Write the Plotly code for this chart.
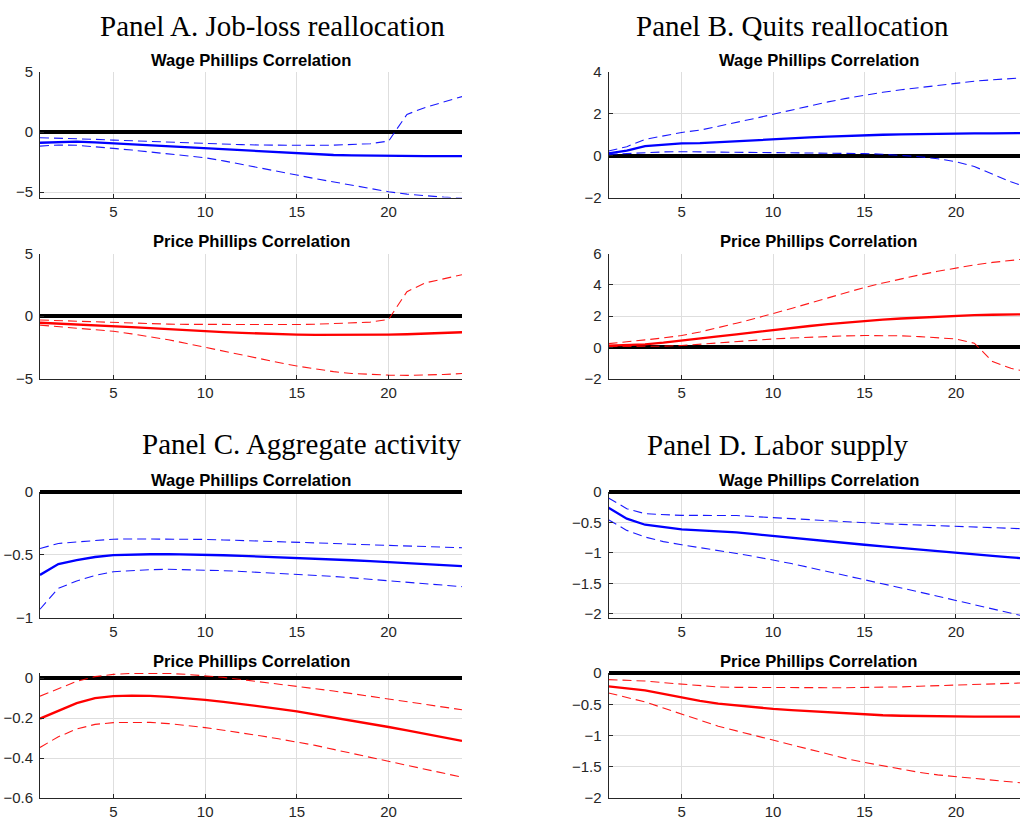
import plotly.graph_objects as go

# Forecast horizon (quarters)
horizon = list(range(1, 25))

# Panel A. Job-loss reallocation
a_wage_mid = [-0.89, -0.82, -0.80, -0.86, -0.94, -1.02, -1.11, -1.19, -1.28, -1.36, -1.45, -1.53,
              -1.61, -1.70, -1.78, -1.85, -1.91, -1.95, -1.98, -2.00, -2.01, -2.01, -2.01, -2.01]
a_wage_hi = [-0.47, -0.50, -0.55, -0.61, -0.67, -0.73, -0.80, -0.86, -0.92, -0.97, -1.01, -1.05,
             -1.08, -1.10, -1.11, -1.11, -1.09, -1.05, -0.97, -0.75, 1.47, 2.05, 2.50, 2.95]
a_wage_lo = [-1.17, -1.08, -1.10, -1.20, -1.36, -1.50, -1.66, -1.83, -1.98, -2.14, -2.40, -2.68,
             -2.97, -3.27, -3.58, -3.88, -4.16, -4.43, -4.70, -4.97, -5.17, -5.31, -5.42, -5.50]
a_price_mid = [-0.54, -0.60, -0.67, -0.74, -0.81, -0.89, -0.97, -1.06, -1.14, -1.22, -1.29, -1.35,
               -1.41, -1.46, -1.49, -1.51, -1.52, -1.52, -1.51, -1.49, -1.46, -1.41, -1.36, -1.30]
a_price_hi = [-0.32, -0.37, -0.43, -0.49, -0.54, -0.58, -0.62, -0.65, -0.67, -0.68, -0.69, -0.69,
              -0.69, -0.69, -0.68, -0.66, -0.62, -0.57, -0.49, -0.27, 1.95, 2.65, 3.00, 3.30]
a_price_lo = [-0.73, -0.85, -0.98, -1.10, -1.22, -1.43, -1.65, -1.90, -2.20, -2.51, -2.82, -3.13,
              -3.43, -3.72, -4.00, -4.25, -4.45, -4.60, -4.68, -4.73, -4.75, -4.74, -4.68, -4.60]

# Panel B. Quits reallocation
b_wage_mid = [0.11, 0.24, 0.46, 0.53, 0.59, 0.60, 0.65, 0.70, 0.75, 0.79, 0.83, 0.87,
              0.91, 0.95, 0.98, 1.00, 1.02, 1.04, 1.05, 1.06, 1.07, 1.07, 1.08, 1.08]
b_wage_hi = [0.22, 0.43, 0.78, 0.96, 1.11, 1.22, 1.40, 1.59, 1.78, 1.98, 2.18, 2.38,
             2.57, 2.74, 2.90, 3.03, 3.15, 3.26, 3.37, 3.48, 3.56, 3.63, 3.69, 3.74]
b_wage_lo = [0.06, 0.10, 0.17, 0.18, 0.19, 0.18, 0.17, 0.16, 0.16, 0.16, 0.16, 0.15,
             0.14, 0.12, 0.10, 0.07, 0.02, -0.05, -0.15, -0.29, -0.52, -0.90, -1.25, -1.55]
b_price_mid = [0.11, 0.14, 0.19, 0.29, 0.41, 0.54, 0.69, 0.83, 0.97, 1.11, 1.24, 1.36,
               1.48, 1.59, 1.69, 1.77, 1.84, 1.90, 1.96, 2.01, 2.05, 2.08, 2.10, 2.12]
b_price_hi = [0.23, 0.33, 0.47, 0.60, 0.75, 0.98, 1.25, 1.54, 1.84, 2.14, 2.48, 2.82,
              3.16, 3.50, 3.83, 4.11, 4.38, 4.63, 4.86, 5.07, 5.27, 5.43, 5.57, 5.68]
b_price_lo = [0.04, 0.04, 0.04, 0.07, 0.11, 0.20, 0.29, 0.38, 0.46, 0.53, 0.59, 0.65,
              0.70, 0.73, 0.75, 0.75, 0.73, 0.68, 0.62, 0.53, 0.26, -0.92, -1.35, -1.60]

# Panel C. Aggregate activity
c_wage_mid = [-0.661, -0.574, -0.542, -0.518, -0.503, -0.498, -0.496, -0.495, -0.496, -0.500, -0.504, -0.509,
              -0.514, -0.519, -0.524, -0.531, -0.538, -0.544, -0.551, -0.558, -0.566, -0.574, -0.582, -0.590]
c_wage_hi = [-0.450, -0.410, -0.398, -0.386, -0.376, -0.374, -0.374, -0.375, -0.376, -0.378, -0.382, -0.386,
             -0.391, -0.395, -0.400, -0.405, -0.410, -0.416, -0.421, -0.426, -0.431, -0.436, -0.440, -0.444]
c_wage_lo = [-0.934, -0.767, -0.709, -0.665, -0.635, -0.624, -0.619, -0.616, -0.618, -0.622, -0.627, -0.633,
             -0.640, -0.646, -0.653, -0.663, -0.673, -0.684, -0.695, -0.706, -0.718, -0.730, -0.742, -0.754]
c_price_mid = [-0.203, -0.165, -0.126, -0.101, -0.091, -0.088, -0.089, -0.094, -0.101, -0.109, -0.119, -0.130,
               -0.142, -0.154, -0.167, -0.182, -0.198, -0.213, -0.229, -0.245, -0.262, -0.279, -0.297, -0.314]
c_price_hi = [-0.091, -0.052, -0.017, 0.007, 0.018, 0.023, 0.024, 0.023, 0.018, 0.012, 0.003, -0.008,
              -0.019, -0.030, -0.041, -0.053, -0.065, -0.078, -0.091, -0.104, -0.118, -0.132, -0.146, -0.159]
c_price_lo = [-0.347, -0.294, -0.255, -0.232, -0.223, -0.221, -0.222, -0.228, -0.237, -0.248, -0.261, -0.274,
              -0.289, -0.304, -0.319, -0.337, -0.357, -0.377, -0.398, -0.418, -0.437, -0.457, -0.477, -0.496]

# Panel D. Labor supply
d_wage_mid = [-0.258, -0.438, -0.537, -0.580, -0.614, -0.630, -0.646, -0.663, -0.692, -0.723, -0.752, -0.781,
              -0.809, -0.838, -0.866, -0.894, -0.922, -0.949, -0.976, -1.003, -1.027, -1.050, -1.073, -1.096]
d_wage_hi = [-0.099, -0.274, -0.356, -0.375, -0.384, -0.384, -0.384, -0.386, -0.404, -0.422, -0.440, -0.458,
             -0.476, -0.493, -0.510, -0.521, -0.532, -0.543, -0.554, -0.564, -0.575, -0.586, -0.597, -0.607]
d_wage_lo = [-0.455, -0.630, -0.740, -0.815, -0.866, -0.910, -0.960, -1.010, -1.060, -1.112, -1.175, -1.240,
             -1.305, -1.370, -1.436, -1.505, -1.574, -1.642, -1.711, -1.780, -1.850, -1.920, -1.990, -2.058]
d_price_mid = [-0.213, -0.240, -0.277, -0.335, -0.394, -0.445, -0.489, -0.521, -0.550, -0.574, -0.594, -0.612,
               -0.630, -0.648, -0.665, -0.676, -0.684, -0.690, -0.694, -0.697, -0.698, -0.698, -0.698, -0.698]
d_price_hi = [-0.106, -0.112, -0.128, -0.155, -0.181, -0.203, -0.223, -0.230, -0.233, -0.234, -0.235, -0.235,
              -0.235, -0.235, -0.234, -0.230, -0.222, -0.212, -0.203, -0.197, -0.187, -0.176, -0.166, -0.156]
d_price_lo = [-0.319, -0.390, -0.463, -0.560, -0.660, -0.756, -0.851, -0.926, -1.000, -1.074, -1.150, -1.225,
              -1.300, -1.370, -1.431, -1.485, -1.540, -1.590, -1.630, -1.660, -1.690, -1.720, -1.745, -1.770]

panel_titles = ["Panel A. Job-loss reallocation", "Panel B. Quits reallocation",
                "Panel C. Aggregate activity", "Panel D. Labor supply"]
sub_titles = ["Wage Phillips Correlation", "Price Phillips Correlation"]

# y-axis limits and ticks for each subplot, in the order A-wage, A-price, B-wage, ...
y_ranges = [[-5.45, 5], [-5, 5], [-2, 4], [-2, 6], [-1, 0], [-0.6, 0.025], [-2.06, 0], [-2, 0]]
y_ticks = [[-5, 0, 5], [-5, 0, 5], [-2, 0, 2, 4], [-2, 0, 2, 4, 6], [-1, -0.5, 0],
           [-0.6, -0.4, -0.2, 0], [-2, -1.5, -1, -0.5, 0], [-2, -1.5, -1, -0.5, 0]]
x_ticks = [5, 10, 15, 20]
left_xmax = 24
right_xmax = 23.5

series = [
    (a_wage_mid, a_wage_hi, a_wage_lo, "blue"),
    (a_price_mid, a_price_hi, a_price_lo, "red"),
    (b_wage_mid, b_wage_hi, b_wage_lo, "blue"),
    (b_price_mid, b_price_hi, b_price_lo, "red"),
    (c_wage_mid, c_wage_hi, c_wage_lo, "blue"),
    (c_price_mid, c_price_hi, c_price_lo, "red"),
    (d_wage_mid, d_wage_hi, d_wage_lo, "blue"),
    (d_price_mid, d_price_hi, d_price_lo, "red"),
]
colors = {"blue": "#0000ff", "red": "#ff0000"}

W, H = 1020, 818


def fx(p):
    return p / W


def fy(p):
    return 1 - p / H


# plot-area boxes in pixels: (left, right, top, bottom)
col_px = [(40, 462), (608.5, 1029)]
row_px = [(72, 197.5), (253.5, 378.5), (492, 617.5), (673, 798)]

fig = go.Figure()
axis_font = dict(family="Liberation Sans, Arial, sans-serif", size=15, color="#262626")
layout = dict(
    template="none",
    width=W, height=H, margin=dict(l=0, r=0, t=0, b=0, autoexpand=False),
    paper_bgcolor="white", plot_bgcolor="white", showlegend=False,
)
annotations = []

for i, (mid, hi, lo, cname) in enumerate(series):
    panel = i // 2          # 0..3 -> A, B, C, D
    kind = i % 2            # 0 wage, 1 price
    col = panel % 2
    row = (panel // 2) * 2 + kind
    n = i + 1
    xa = "x" if n == 1 else f"x{n}"
    ya = "y" if n == 1 else f"y{n}"
    c = colors[cname]

    for band in (hi, lo):
        fig.add_trace(go.Scatter(x=horizon, y=band, mode="lines", xaxis=xa, yaxis=ya,
                                 line=dict(color=c, width=1.1, dash="9px,5px"),
                                 opacity=0.9, hoverinfo="skip"))
    fig.add_trace(go.Scatter(x=horizon, y=mid, mode="lines", xaxis=xa, yaxis=ya,
                             line=dict(color=c, width=2.3), hoverinfo="skip"))

    l, r = col_px[col]
    t, b = row_px[row]
    xmax = left_xmax if col == 0 else right_xmax
    dom_x = [fx(l), fx(r)] if col == 0 else [fx(l), 1.0]
    layout[f"xaxis{'' if n == 1 else n}"] = dict(
        domain=dom_x, range=[1, xmax], anchor=ya, tickvals=x_ticks, automargin=False,
        showgrid=True, gridcolor="#dedede", gridwidth=1,
        showline=True, linecolor="#262626", linewidth=1,
        ticks="inside", ticklen=4, tickcolor="#262626", tickwidth=1,
        tickfont=axis_font, zeroline=False, ticklabelstandoff=0,
    )
    layout[f"yaxis{'' if n == 1 else n}"] = dict(
        domain=[fy(b), fy(t)], range=y_ranges[i], anchor=xa, tickvals=y_ticks[i],
        tickformat="~g", automargin=False,
        showgrid=True, gridcolor="#dedede", gridwidth=1,
        showline=True, linecolor="#262626", linewidth=1,
        ticks="inside", ticklen=4, tickcolor="#262626", tickwidth=1,
        tickfont=axis_font, zeroline=True, zerolinecolor="#000000", zerolinewidth=4,
        ticklabelstandoff=3,
    )
    # subplot heading
    annotations.append(dict(
        text=f"<b>{sub_titles[kind]}</b>", xref="paper", yref="paper",
        x=fx((l + r) / 2), y=fy(t - 12), xanchor="center", yanchor="middle",
        showarrow=False, font=dict(family="Liberation Sans, Arial, sans-serif", size=16.6, color="#000000"),
    ))

# panel headings (serif)
panel_pos = [(272, 26), (792, 26), (301, 444), (777, 445)]
for title, (cx, cy) in zip(panel_titles, panel_pos):
    annotations.append(dict(
        text=title, xref="paper", yref="paper", x=fx(cx), y=fy(cy),
        xanchor="center", yanchor="middle", showarrow=False,
        font=dict(family="Liberation Serif, Times New Roman, serif", size=29, color="#000000"),
    ))

layout["annotations"] = annotations
fig.update_layout(**layout)
fig.write_html("out.html", config={"displayModeBar": False})
